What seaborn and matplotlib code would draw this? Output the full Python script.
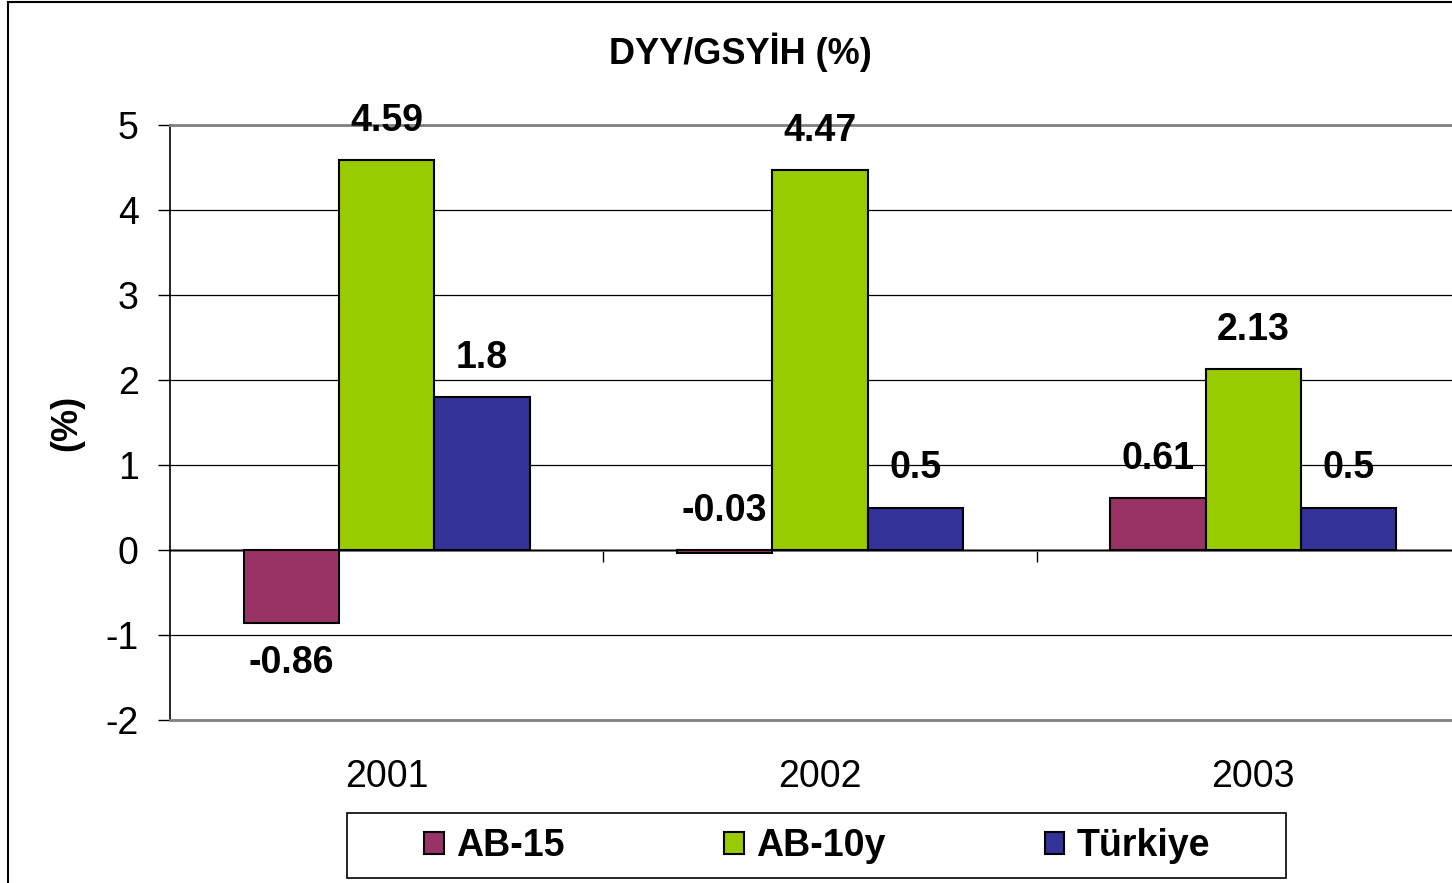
import pandas as pd
import numpy as np
import matplotlib
matplotlib.use('Agg')
import matplotlib.pyplot as plt
from matplotlib.patches import Rectangle
import seaborn as sns

years = ['2001', '2002', '2003']
series_names = ['AB-15', 'AB-10y', 'Türkiye']
ab15 = [-0.86, -0.03, 0.61]
ab10y = [4.59, 4.47, 2.13]
turkiye = [1.8, 0.5, 0.5]
colors = ['#993366', '#99CC00', '#333399']

sns.set_style('white')
plt.rcParams['font.family'] = ['Liberation Sans', 'DejaVu Sans']
plt.rcParams['axes.unicode_minus'] = False
plt.rcParams['text.color'] = 'black'
plt.rcParams['xtick.color'] = 'black'
plt.rcParams['ytick.color'] = 'black'

df = pd.DataFrame({
    'year': years * 3,
    'series': [s for s in series_names for _ in years],
    'value': ab15 + ab10y + turkiye,
})

W, H = 1452, 883
fig = plt.figure(figsize=(W / 100, H / 100), dpi=100)
ax = fig.add_axes([170 / W, 1 - 720 / H, 1300 / W, 595 / H])

sns.barplot(data=df, x='year', y='value', hue='series', hue_order=series_names,
            palette=colors, width=0.66, gap=0, edgecolor='black', linewidth=1.5,
            saturation=1, ax=ax)

handles, labels = ax.get_legend_handles_labels()
ax.get_legend().remove()

ax.set_xlim(-0.5, 2.5)
ax.set_ylim(-2, 5)
ax.set_yticks(range(-2, 6))
ax.yaxis.grid(True, color='black', linewidth=0.9)
ax.set_axisbelow(True)
ax.set_xlabel('')
ax.set_ylabel('')
ax.tick_params(axis='y', labelsize=27, length=8.6, width=1, direction='out',
               left=True, pad=14, color='black', labelcolor='black')
ax.tick_params(axis='x', labelsize=27, length=0, pad=28, labelcolor='black')
for side in ['top', 'bottom', 'right']:
    ax.spines[side].set_color('#808080')
    ax.spines[side].set_linewidth(2)
ax.spines['left'].set_color('black')
ax.spines['left'].set_linewidth(1.2)

# zero line with category separator ticks
zero_ax = ax.secondary_xaxis(2 / 7)
zero_ax.set_xticks([0.5, 1.5])
zero_ax.tick_params(length=8.6, width=1, direction='out', labelbottom=False, color='black')
zero_ax.spines['bottom'].set_color('#808080')
zero_ax.spines['bottom'].set_linewidth(2)

# data labels
for cont, vals in zip(ax.containers, [ab15, ab10y, turkiye]):
    for bar, v in zip(cont, vals):
        cx = bar.get_x() + bar.get_width() / 2
        if v < -0.1:
            ax.annotate(f'{v:g}', (cx, v), xytext=(0, -16), textcoords='offset points',
                        ha='center', va='top', fontsize=27, fontweight='bold')
        else:
            ax.annotate(f'{v:g}', (cx, max(v, 0)), xytext=(0, 21), textcoords='offset points',
                        ha='center', va='baseline', fontsize=27, fontweight='bold')

fig.text(740 / W, 1 - 52 / H, 'DYY/GSYİH (%)', ha='center', va='center',
         fontsize=26, fontweight='bold')
fig.text(67 / W, 1 - 423 / H, '(%)', ha='center', va='center', rotation=90,
         fontsize=26, fontweight='bold')

fig.legend(handles, labels, loc='center', bbox_to_anchor=(817 / W, 1 - 846 / H),
           ncol=3, frameon=False, prop={'size': 27, 'weight': 'bold'},
           handlelength=0.53, handleheight=0.53, handletextpad=0.32, columnspacing=4.25)

fig.patches.append(Rectangle((347 / W, 1 - 878 / H), 939 / W, 65 / H,
                             transform=fig.transFigure, fill=False,
                             edgecolor='black', linewidth=1.2))
fig.patches.append(Rectangle((8 / W, -0.1), 1.2, 1.1 - 2 / H,
                             transform=fig.transFigure, fill=False,
                             edgecolor='black', linewidth=1.5))

fig.savefig('out.png', dpi=100)
